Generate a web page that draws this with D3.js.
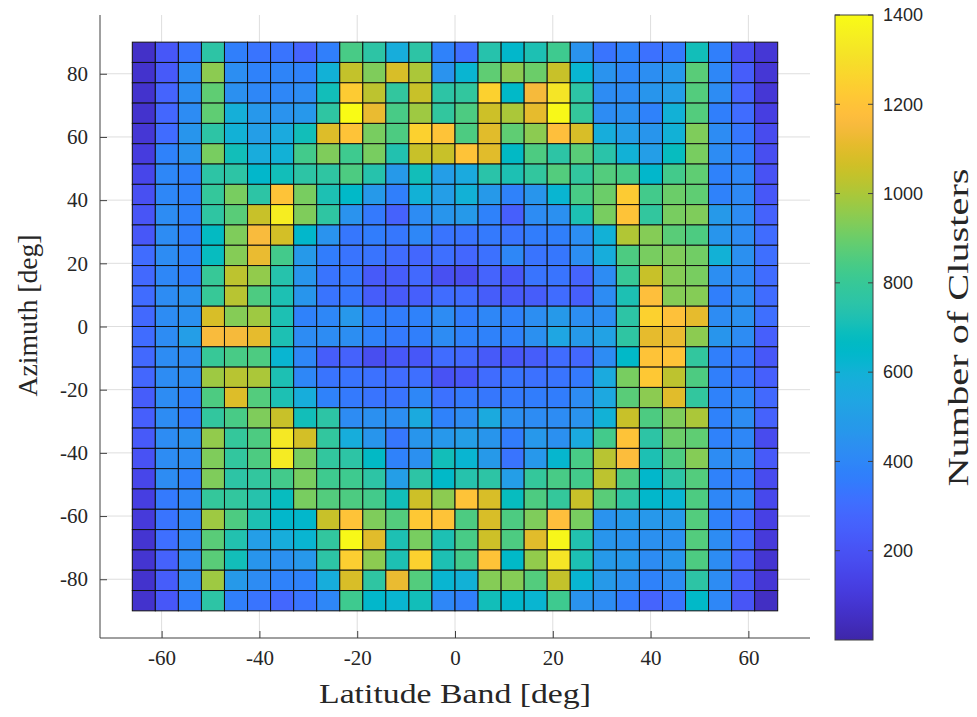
<!DOCTYPE html>
<html><head><meta charset="utf-8">
<script src="https://cdn.jsdelivr.net/npm/d3@7"></script>
<style>
html,body{margin:0;padding:0;background:#fff;}
svg{display:block;}
</style></head>
<body>
<svg id="chart" width="977" height="717"></svg>
<script>
// ---- data ----
// latitude band centres (deg), left -> right
const latitudeBands = [-63.64,-58.93,-54.21,-49.50,-44.79,-40.07,-35.36,-30.64,-25.93,-21.21,-16.50,-11.79,-7.07,-2.36,
  2.36,7.07,11.79,16.50,21.21,25.93,30.64,35.36,40.07,44.79,49.50,54.21,58.93,63.64];
// azimuth bin centres (deg), top -> bottom
const azimuthBins = [86.79,80.36,73.93,67.50,61.07,54.64,48.21,41.79,35.36,28.93,22.50,16.07,9.64,3.21,
  -3.21,-9.64,-16.07,-22.50,-28.93,-35.36,-41.79,-48.21,-54.64,-61.07,-67.50,-73.93,-80.36,-86.79];
// number of clusters, one row per azimuth bin (top -> bottom), one column per latitude band
const clusterCounts = [
 [60,220,330,760,370,330,330,270,370,840, 760,580,760,380,310,740,640,720,820, 450,330,380,320,350,700,370,170,90],
 [70,230,420,950,430,380,390,380,600,1040, 930,1080,1000,450,620,880,950,900,1050, 620,450,400,430,470,870,400,240,90],
 [70,270,430,880,440,400,400,420,700,1230, 1030,780,1050,760,780,1250,650,1150,1320, 760,420,420,460,500,860,420,270,90],
 [70,280,420,880,590,470,450,470,770,1400, 1120,840,980,780,850,1060,1000,1110,1390, 790,420,440,380,600,860,370,300,120],
 [90,300,460,760,600,500,560,700,1090,1200, 920,850,1250,1200,850,1100,880,950,1180, 1080,580,500,460,600,930,420,340,170],
 [110,380,450,920,700,570,600,830,930,820, 920,730,1050,1050,1200,1100,660,850,760, 870,750,600,500,680,920,420,370,180],
 [150,400,380,760,760,640,700,760,770,850, 740,480,700,500,560,750,720,780,860, 780,860,840,640,830,880,380,400,200],
 [190,400,380,790,920,760,1200,920,720,650, 480,370,600,500,600,480,380,460,620, 840,900,1230,830,900,880,380,410,220],
 [210,420,380,770,870,1050,1350,930,770,450, 350,260,420,460,480,380,250,420,440, 720,920,1200,780,920,930,480,420,260],
 [220,420,370,670,930,1160,1070,640,450,340, 360,340,400,330,330,350,330,360,370, 430,600,1010,940,870,850,460,420,300],
 [300,420,380,680,940,1120,830,480,360,330, 330,300,280,310,280,320,400,330,340, 430,580,850,920,930,910,600,440,310],
 [290,400,370,800,1030,960,740,460,330,340, 230,240,290,190,180,270,220,330,330, 270,420,800,1050,940,920,430,410,300],
 [300,420,440,800,1020,850,720,460,330,340, 240,230,250,300,300,240,230,240,300, 250,420,720,1180,940,940,370,420,300],
 [290,420,440,1080,940,980,720,380,400,470, 370,360,380,420,360,400,380,430,480, 430,430,760,1250,1190,1110,420,440,310],
 [300,420,500,1160,1150,1110,720,420,420,430, 380,350,370,420,380,380,380,440,540, 480,520,770,1110,1120,950,460,420,250],
 [290,420,420,800,840,850,620,400,240,260, 180,220,220,300,290,230,220,240,300, 280,420,650,1200,1200,780,370,350,220],
 [280,420,420,980,1020,1000,720,400,330,330, 320,300,310,200,220,300,330,320,330, 350,560,920,1220,1030,850,370,340,250],
 [240,420,380,850,1090,860,720,580,380,350, 330,330,400,320,350,340,350,360,360, 420,550,870,950,1100,780,380,400,290],
 [250,420,360,780,840,930,1050,700,760,420, 440,430,560,380,420,560,430,420,420, 450,600,1050,850,930,1000,380,420,260],
 [230,420,440,960,790,850,1330,1070,780,580, 460,340,460,470,500,460,360,470,440, 560,830,1200,760,900,880,380,400,170],
 [200,420,420,930,780,850,1340,920,780,760, 660,380,440,700,620,480,330,470,630, 840,1020,1170,720,850,940,420,420,230],
 [150,420,380,930,760,780,830,920,820,820, 760,500,760,650,740,760,500,790,840, 830,1030,850,640,760,860,380,370,170],
 [120,350,400,790,780,740,680,920,860,850, 830,700,1060,950,1200,1080,680,850,790, 1050,870,770,640,620,850,400,400,160],
 [100,330,400,980,850,720,640,640,1050,1200, 930,860,1220,1200,850,1080,850,930,1180, 920,450,480,470,480,860,380,310,130],
 [80,310,410,870,730,500,580,620,780,1390, 1100,720,920,720,840,1060,850,1100,1380, 730,460,450,440,440,860,420,310,100],
 [80,260,420,870,700,460,440,470,760,1240, 950,720,1250,720,830,1200,650,960,1320, 720,480,470,420,460,850,420,260,80],
 [70,240,420,980,480,420,380,380,580,1080, 770,1120,860,620,600,940,940,860,1040, 620,480,440,380,420,760,420,240,90],
 [70,220,360,760,370,330,280,330,400,820, 640,620,700,400,370,700,640,620,820, 450,420,350,270,330,650,400,210,50]
];
const xTicks = [-60,-40,-20,0,20,40,60];
const yTicks = [-80,-60,-40,-20,0,20,40,60,80];
const colorTicks = [200,400,600,800,1000,1200,1400];
const colorLimits = [0,1400];

// MATLAB parula colormap (64 entries)
const parula = [
[0.2422,0.1504,0.6603],[0.2504,0.1650,0.7076],[0.2578,0.1818,0.7511],[0.2647,0.1978,0.7952],
[0.2706,0.2147,0.8364],[0.2751,0.2342,0.8710],[0.2783,0.2559,0.8991],[0.2803,0.2782,0.9221],
[0.2813,0.3006,0.9414],[0.2810,0.3228,0.9579],[0.2795,0.3447,0.9717],[0.2760,0.3667,0.9829],
[0.2699,0.3892,0.9906],[0.2602,0.4123,0.9952],[0.2440,0.4358,0.9988],[0.2206,0.4603,0.9973],
[0.1963,0.4847,0.9892],[0.1834,0.5074,0.9798],[0.1786,0.5289,0.9682],[0.1764,0.5499,0.9520],
[0.1687,0.5703,0.9359],[0.1540,0.5902,0.9218],[0.1460,0.6091,0.9079],[0.1380,0.6276,0.8973],
[0.1248,0.6459,0.8883],[0.1113,0.6635,0.8763],[0.0952,0.6798,0.8598],[0.0689,0.6948,0.8394],
[0.0297,0.7082,0.8163],[0.0036,0.7203,0.7917],[0.0067,0.7312,0.7660],[0.0433,0.7411,0.7394],
[0.0964,0.7500,0.7120],[0.1408,0.7584,0.6842],[0.1717,0.7670,0.6554],[0.1938,0.7758,0.6251],
[0.2161,0.7843,0.5923],[0.2470,0.7918,0.5567],[0.2906,0.7973,0.5188],[0.3406,0.8008,0.4789],
[0.3909,0.8029,0.4354],[0.4456,0.8024,0.3909],[0.5044,0.7993,0.3480],[0.5616,0.7942,0.3045],
[0.6174,0.7876,0.2612],[0.6720,0.7793,0.2227],[0.7242,0.7698,0.1910],[0.7738,0.7598,0.1646],
[0.8203,0.7498,0.1535],[0.8634,0.7406,0.1596],[0.9035,0.7330,0.1774],[0.9393,0.7288,0.2100],
[0.9728,0.7298,0.2394],[0.9956,0.7434,0.2371],[0.9970,0.7659,0.2199],[0.9952,0.7893,0.2028],
[0.9892,0.8136,0.1885],[0.9786,0.8386,0.1766],[0.9676,0.8639,0.1643],[0.9610,0.8890,0.1537],
[0.9597,0.9135,0.1423],[0.9628,0.9373,0.1265],[0.9691,0.9606,0.1064],[0.9769,0.9839,0.0805]
].map(c => d3.rgb(c[0]*255, c[1]*255, c[2]*255).formatHex());

// ---- drawing ----
const svg = d3.select("#chart");
const serif = "'Liberation Serif','Times New Roman',serif";
const sans = "'Liberation Sans',Arial,Helvetica,sans-serif";

const x = d3.scaleLinear().domain([-72.6, 72.6]).range([100, 810]);
const y = d3.scaleLinear().domain([-98.6, 98.6]).range([638, 15]);
const color = d3.scaleLinear()
  .domain(parula.map((_, i) => colorLimits[0] + i/(parula.length-1)*(colorLimits[1]-colorLimits[0])))
  .range(parula).interpolate(d3.interpolateRgb).clamp(true);

const latStep = latitudeBands[1] - latitudeBands[0];
const azStep = azimuthBins[0] - azimuthBins[1];

// grid lines
const grid = svg.append("g").attr("stroke", "#dedede").attr("stroke-width", 1);
xTicks.forEach(t => grid.append("line").attr("x1", x(t)).attr("x2", x(t)).attr("y1", y.range()[1]).attr("y2", y.range()[0]));
yTicks.forEach(t => grid.append("line").attr("y1", y(t)).attr("y2", y(t)).attr("x1", x.range()[0]).attr("x2", x.range()[1]));

// cells
const cells = [];
clusterCounts.forEach((row, r) => row.forEach((v, c) => cells.push({lat: latitudeBands[c], az: azimuthBins[r], v})));
svg.append("g").selectAll("rect").data(cells).join("rect")
  .attr("x", d => x(d.lat - latStep/2))
  .attr("y", d => y(d.az + azStep/2))
  .attr("width", d => x(d.lat + latStep/2) - x(d.lat - latStep/2))
  .attr("height", d => y(d.az - azStep/2) - y(d.az + azStep/2))
  .attr("fill", d => color(d.v))
  .attr("stroke", "#111")
  .attr("stroke-width", 1);

// axes
const axCol = "#404040";
const fmt = d => String(d);
const xAxis = svg.append("g").attr("transform", `translate(0,${y.range()[0]})`)
  .call(d3.axisBottom(x).tickValues(xTicks).tickSize(-7).tickPadding(16).tickFormat(fmt));
const yAxis = svg.append("g").attr("transform", `translate(${x.range()[0]},0)`)
  .call(d3.axisLeft(y).tickValues(yTicks).tickSize(-7).tickPadding(12).tickFormat(fmt));
[xAxis, yAxis].forEach(a => {
  a.select(".domain").remove();
  a.selectAll(".tick line").attr("stroke", axCol);
  a.selectAll(".tick text").attr("fill", "#262626").attr("font-family", serif).attr("font-size", 21);
});
svg.append("line").attr("x1", x.range()[0]).attr("x2", x.range()[1]).attr("y1", y.range()[0]).attr("y2", y.range()[0]).attr("stroke", axCol);
svg.append("line").attr("x1", x.range()[0]).attr("x2", x.range()[0]).attr("y1", y.range()[0]).attr("y2", y.range()[1]).attr("stroke", axCol);
xAxis.selectAll(".tick text").attr("dy", "0.5em");

// axis titles
svg.append("text").attr("x", x(0)).attr("y", 703).attr("text-anchor", "middle")
  .attr("font-family", serif).attr("font-size", 28).attr("fill", "#262626")
  .attr("textLength", 272).attr("lengthAdjust", "spacingAndGlyphs").text("Latitude Band [deg]");
svg.append("text").attr("transform", `translate(37,${y(3.5)}) rotate(-90)`).attr("text-anchor", "middle")
  .attr("font-family", serif).attr("font-size", 28).attr("fill", "#262626")
  .attr("textLength", 162).attr("lengthAdjust", "spacingAndGlyphs").text("Azimuth [deg]");

// colorbar
const cbX = 835, cbW = 38;
const cy = d3.scaleLinear().domain(colorLimits).range([640, 15]);
const defs = svg.append("defs");
const grad = defs.append("linearGradient").attr("id", "cbgrad").attr("x1", 0).attr("x2", 0).attr("y1", 1).attr("y2", 0);
parula.forEach((c, i) => grad.append("stop").attr("offset", i/(parula.length-1)).attr("stop-color", c));
svg.append("rect").attr("x", cbX).attr("y", cy(colorLimits[1])).attr("width", cbW)
  .attr("height", cy(colorLimits[0]) - cy(colorLimits[1])).attr("fill", "url(#cbgrad)")
  .attr("stroke", axCol).attr("stroke-width", 1);
const cbTicks = svg.append("g");
colorTicks.forEach(t => {
  cbTicks.append("line").attr("x1", cbX + cbW - 5).attr("x2", cbX + cbW).attr("y1", cy(t)).attr("y2", cy(t)).attr("stroke", axCol);
  cbTicks.append("line").attr("x1", cbX).attr("x2", cbX + 5).attr("y1", cy(t)).attr("y2", cy(t)).attr("stroke", axCol);
  cbTicks.append("text").attr("x", cbX + cbW + 10).attr("y", cy(t)).attr("dy", "0.35em")
    .attr("font-family", sans).attr("font-size", 18).attr("fill", "#262626").text(t);
});
svg.append("text").attr("transform", `translate(968,${cy(700)}) rotate(-90)`).attr("text-anchor", "middle")
  .attr("font-family", serif).attr("font-size", 29).attr("fill", "#262626")
  .attr("textLength", 318).attr("lengthAdjust", "spacingAndGlyphs").text("Number of Clusters");
</script>
</body></html>
